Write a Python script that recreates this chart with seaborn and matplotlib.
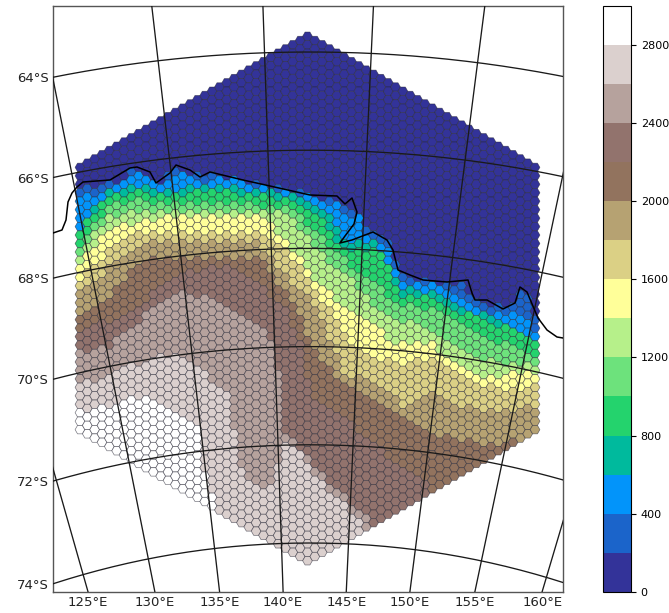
import numpy as np
import pandas as pd
import matplotlib
matplotlib.use("Agg")
import matplotlib.pyplot as plt
import seaborn as sns

W, H = 669, 613
N = 999  # band absent in that column

# first map-y of each elevation band, one value per hexagon column (west to east)
START_200 = [188,186,185,185,184,182,176,170,170,172,178,182,174,170,170,172,175,178,175,175,176,178,180,182,183,185,186,187,188,190,192,194,196,197,198,199,207,209,213,228,233,236,242,258,275,277,278,279,281,282,283,284,285,292,302,303,303,306,310,306,290,295,318]
START_400 = [198,196,194,190,187,186,180,174,174,177,182,186,178,175,174,176,178,181,178,178,178,180,182,184,185,187,188,189,190,192,194,196,198,200,202,204,212,214,217,232,238,242,250,268,283,283,284,284,285,287,290,294,298,303,308,310,312,314,316,314,313,318,330]
START_600 = [228,215,205,197,192,191,189,187,185,186,188,190,190,189,188,188,187,187,187,187,187,188,189,190,191,192,192,193,193,195,197,200,204,208,214,228,242,243,243,243,243,250,262,278,288,289,290,291,292,294,297,300,303,307,312,315,317,320,323,327,330,334,337]
START_800 = [233,222,212,203,197,196,194,192,191,192,193,194,194,193,193,193,192,192,192,192,192,193,194,195,195,196,196,197,197,199,202,206,212,218,228,240,250,250,250,249,248,255,268,284,295,296,297,297,298,301,305,308,312,315,318,320,322,325,328,332,335,340,345]
START_1000 = [248,236,224,214,207,205,203,202,201,202,203,203,203,203,203,203,203,203,204,205,205,205,205,205,205,206,206,207,207,211,216,223,230,238,246,254,260,266,272,278,285,290,295,300,305,306,308,309,310,314,318,322,325,329,333,336,338,341,344,347,350,354,357]
START_1200 = [253,243,233,224,218,215,213,211,210,210,210,210,210,210,210,210,210,210,210,210,210,210,210,210,210,211,212,213,215,222,230,238,247,254,261,267,273,280,288,296,303,308,312,316,320,322,325,328,330,335,340,344,347,351,355,358,360,361,362,363,363,363,363]
START_1400 = [264,255,246,238,233,229,226,224,223,221,220,218,217,217,217,217,217,217,218,218,218,218,218,218,218,221,226,231,236,250,260,268,278,286,294,302,308,312,315,320,325,331,337,342,345,345,345,345,345,350,355,358,362,367,372,376,378,378,375,373,372,372,372]
START_1600 = [280,272,265,258,250,246,242,238,235,233,232,232,231,231,231,231,231,232,232,233,233,233,233,233,233,235,238,244,250,259,268,277,287,299,311,323,335,341,346,352,358,359,360,362,363,362,360,358,357,362,367,371,375,379,383,385,387,387,388,388,388,387,385]
START_1800 = [292,288,283,278,268,262,256,250,245,243,243,243,242,242,242,242,242,242,242,243,243,243,243,243,243,250,259,268,277,284,291,298,305,322,339,356,373,375,377,378,380,386,392,398,405,402,399,397,395,398,400,403,405,407,408,409,410,410,409,409,408,407,405]
START_2000 = [315,311,307,303,296,288,280,270,262,258,258,259,260,259,259,258,258,258,258,258,257,257,257,257,257,264,273,283,292,306,318,335,350,359,368,377,385,388,391,394,397,401,405,409,413,419,424,430,435,436,437,439,440,441,443,444,445,447,445,440,N,N,N]
START_2200 = [330,327,324,322,320,316,312,308,305,299,293,286,280,277,275,272,270,269,268,268,268,271,273,276,278,288,298,305,310,325,345,380,400,405,410,415,420,425,431,437,443,450,457,463,467,472,477,482,N,N,N,N,N,N,N,N,N,N,N,N,N,N,N]
START_2400 = [352,350,349,348,347,340,333,327,322,314,306,300,295,293,292,292,295,298,301,304,307,310,312,316,320,330,345,370,430,440,447,458,468,475,483,490,497,505,512,N,N,N,N,N,N,N,N,N,N,N,N,N,N,N,N,N,N,N,N,N,N,N,N]
START_2600 = [387,383,380,376,372,369,367,365,363,361,359,357,355,356,358,360,363,370,385,387,390,430,470,480,487,488,488,460,440,448,455,465,475,482,490,498,505,512,518,515,N,N,N,N,N,N,N,N,N,N,N,N,N,N,N,N,N,N,N,N,N,N,N]
START_2800 = [412,410,408,407,407,405,402,400,400,400,400,402,405,412,418,423,428,470,490,N,N,N,N,N,N,N,N,N,N,N,N,N,N,N,N,N,N,N,N,N,N,N,N,N,N,N,N,N,N,N,N,N,N,N,N,N,N,N,N,N,N,N,N]

BAND_STARTS = [START_200, START_400, START_600, START_800, START_1000, START_1200, START_1400,
               START_1600, START_1800, START_2000, START_2200, START_2400, START_2600, START_2800]

COAST_X = [53,62,66,68,72,77,83,110,130,137,150,156,170,176,190,200,210,243,270,310,337,345,352,357,354,345,340,352,373,387,393,398,410,423,447,468,472,475,487,503,515,520,527,538,547,557,563]
COAST_Y = [233,230,220,202,193,187,182,180,168,167,172,183,173,165,170,177,172,180,186,195,196,204,198,212,224,236,243,240,232,240,250,270,275,280,282,280,293,300,300,309,303,287,292,318,330,337,338]

MERIDIANS = [125, 130, 135, 140, 145, 150, 155, 160]
PARALLELS = [64, 66, 68, 70, 72, 74]
CBAR_TICKS = [0, 400, 800, 1200, 1600, 2000, 2400, 2800]
BOUNDS = list(range(0, 3200, 200))

# map plane: conic projection with the pole at (POLE_X, POLE_Y)
POLE_X, POLE_Y = 310.0, 1373.0
R74, R_PER_DEG, CONE, LON0 = 830.0, 49.1, 0.926, 142.13
X0, X1, Y0, Y1 = 52.7, 563.3, 5.5, 591.7


def project(lon, lat):
    r = R74 + R_PER_DEG * (74 - np.asarray(lat, float))
    t = np.radians(CONE * (np.asarray(lon, float) - LON0))
    return POLE_X + r * np.sin(t), POLE_Y - r * np.cos(t)


# hexagon mesh: 63 columns, 32 to 63 cells each
DX, DY, CX, CY = 7.34, 8.46, 307.5, 298.5
rows = []
starts = np.array(BAND_STARTS)
for c in range(63):
    off = c - 31
    n = 63 - abs(off)
    for k in range(n):
        y = CY + (k - (n - 1) / 2) * DY
        rows.append((CX + off * DX, y, int((starts[:, c] <= y).sum())))
cells = pd.DataFrame(rows, columns=["x", "y", "band"])

fig = plt.figure(figsize=(W / 100, H / 100), dpi=100)
ax = fig.add_axes([X0 / W, 1 - Y1 / H, (X1 - X0) / W, (Y1 - Y0) / H])
cmap = plt.get_cmap("terrain", 15)
palette = {i: cmap(i) for i in range(15)}
sns.scatterplot(data=cells, x="x", y="y", hue="band", palette=palette, hue_order=list(range(15)),
                marker="H", s=49, edgecolor=(0.12, 0.12, 0.18, 0.6), linewidth=0.5, legend=False, ax=ax, zorder=2)
ax.set_xlim(X0, X1)
ax.set_ylim(Y1, Y0)
ax.set_xlabel("")
ax.set_ylabel("")

# graticule
for lon in MERIDIANS:
    gx, gy = project(np.full(200, lon), np.linspace(55, 80, 200))
    ax.plot(gx, gy, color="#1a1a1a", lw=0.95, zorder=3)
for lat in PARALLELS:
    gx, gy = project(np.linspace(100, 185, 300), np.full(300, lat))
    ax.plot(gx, gy, color="#1a1a1a", lw=0.95, zorder=3)
ax.plot(COAST_X, COAST_Y, color="black", lw=1.1, zorder=4)

xt = [POLE_X + (POLE_Y - Y1) * np.tan(np.radians(CONE * (m - LON0))) for m in MERIDIANS]
yt = [POLE_Y - np.sqrt((R74 + R_PER_DEG * (74 - p)) ** 2 - (X0 - POLE_X) ** 2) for p in PARALLELS]
ax.set_xticks(xt, [f"{m}°E" for m in MERIDIANS])
ax.set_yticks(yt, [f"{p}°S" for p in PARALLELS])
ax.tick_params(length=0, labelsize=9.5, pad=3, colors="#222222")
for s in ax.spines.values():
    s.set_color("#555555")
    s.set_linewidth(1.0)

cax = fig.add_axes([602.5 / W, 1 - 591.7 / H, 28.5 / W, (591.7 - 6) / H])
norm = matplotlib.colors.BoundaryNorm(BOUNDS, 15)
cb = fig.colorbar(matplotlib.cm.ScalarMappable(norm=norm, cmap=cmap), cax=cax, ticks=CBAR_TICKS, spacing="proportional")
cb.ax.tick_params(labelsize=8, length=3.5, width=0.8)
cb.ax.minorticks_off()

fig.savefig("out.png", dpi=100)
